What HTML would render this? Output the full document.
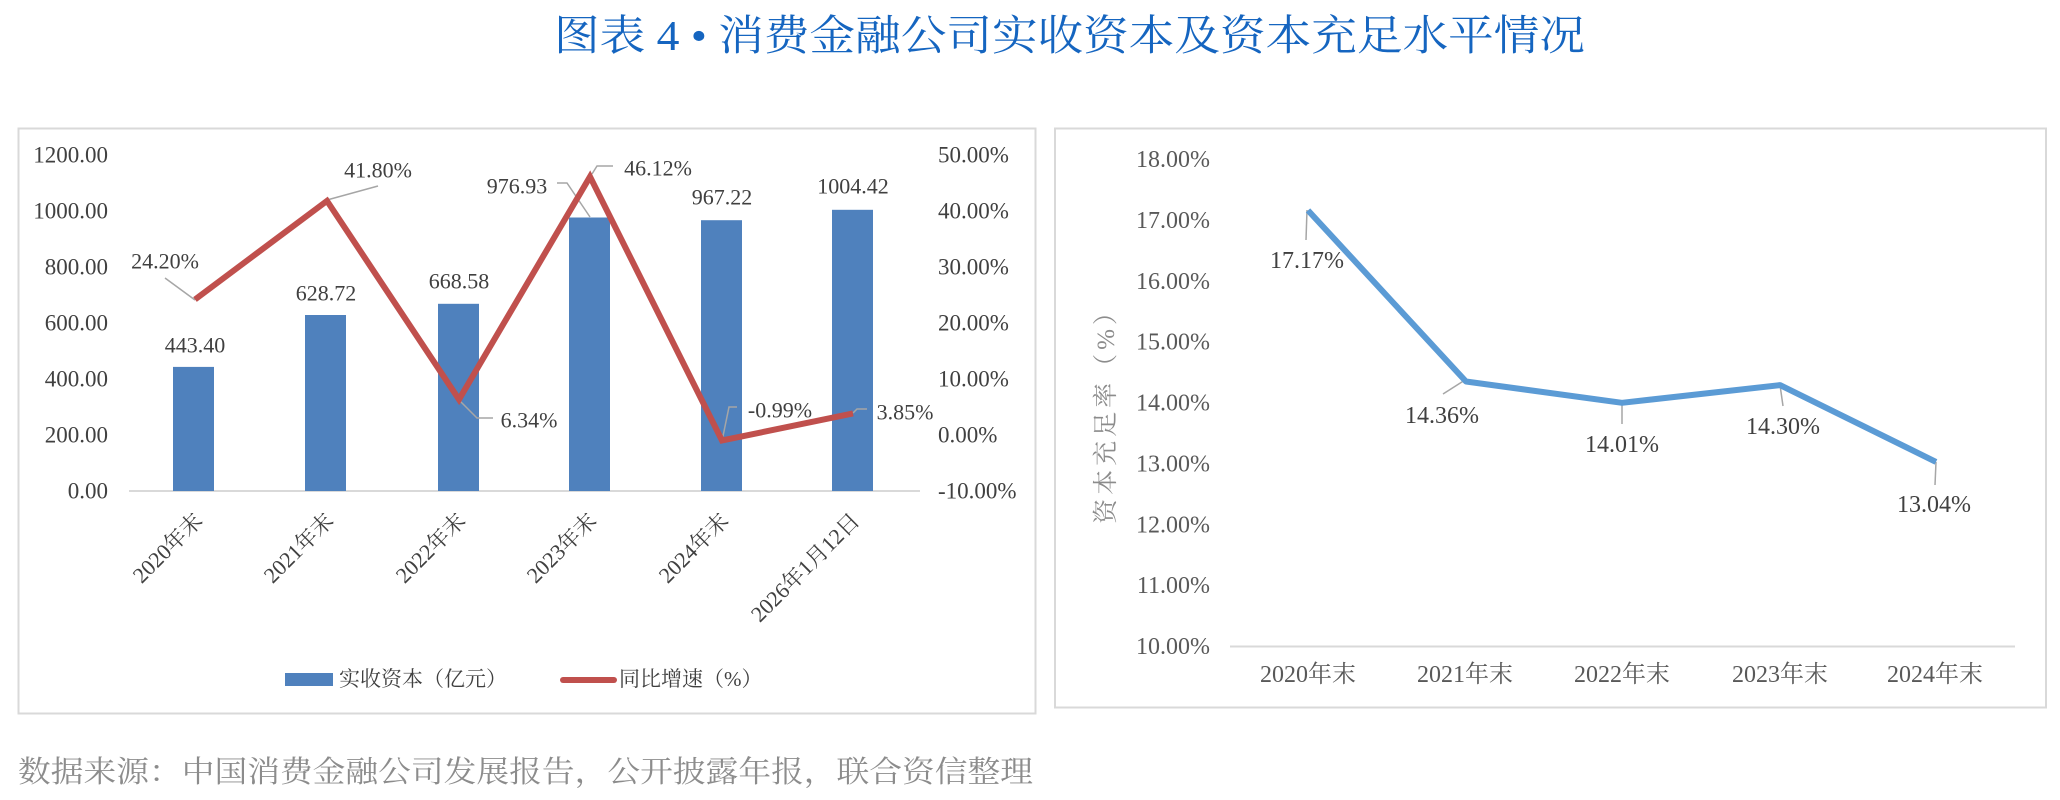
<!DOCTYPE html>
<html><head><meta charset="utf-8"><style>
html,body{margin:0;padding:0;background:#fff;width:2060px;height:800px;overflow:hidden}
svg text{font-family:"Liberation Serif","Noto Serif CJK SC","Noto Sans CJK SC",serif}
</style></head><body>
<svg width="2060" height="800" viewBox="0 0 2060 800" xmlns="http://www.w3.org/2000/svg">
<text x="554" y="50" font-size="42" fill="#1565c0" textLength="1031" lengthAdjust="spacingAndGlyphs">图表 4 • 消费金融公司实收资本及资本充足水平情况</text>

<!-- Left panel -->
<rect x="18.5" y="128.5" width="1017" height="585" fill="#fff" stroke="#d9d9d9" stroke-width="2"/>
<g font-size="23" fill="#404040" dominant-baseline="central">
<g text-anchor="end">
<text x="108" y="155">1200.00</text>
<text x="108" y="211">1000.00</text>
<text x="108" y="267">800.00</text>
<text x="108" y="323">600.00</text>
<text x="108" y="379">400.00</text>
<text x="108" y="435">200.00</text>
<text x="108" y="491">0.00</text>
</g>
<g text-anchor="start">
<text x="938" y="155">50.00%</text>
<text x="938" y="211">40.00%</text>
<text x="938" y="267">30.00%</text>
<text x="938" y="323">20.00%</text>
<text x="938" y="379">10.00%</text>
<text x="938" y="435">0.00%</text>
<text x="938" y="491">-10.00%</text>
</g>
</g>
<line x1="129" y1="491" x2="920" y2="491" stroke="#d9d9d9" stroke-width="2"/>
<g fill="#4f81bd">
<rect x="173" y="366.9" width="41" height="124.1"/>
<rect x="305" y="315" width="41" height="176"/>
<rect x="438" y="303.8" width="41" height="187.2"/>
<rect x="569" y="217.5" width="41" height="273.5"/>
<rect x="701" y="220.2" width="41" height="270.8"/>
<rect x="832" y="209.8" width="41" height="281.2"/>
</g>
<g stroke="#a6a6a6" stroke-width="1.5" fill="none">
<polyline points="165,278 195,300"/>
<polyline points="327,200 378,186"/>
<polyline points="459,400 477,418 493,418"/>
<polyline points="557,183 567,183 590,217"/>
<polyline points="592,174 597,166 613,166"/>
<polyline points="722,441 729,407 737,407"/>
<polyline points="853,413 857,409 867,409"/>
</g>
<polyline points="195,299.5 327,200.9 459,399.5 590,176.7 722,440.5 853,413.4" fill="none" stroke="#c0504d" stroke-width="6" stroke-linejoin="miter"/>
<g font-size="22" fill="#404040" text-anchor="middle" dominant-baseline="central">
<text x="195" y="345">443.40</text>
<text x="326" y="293">628.72</text>
<text x="459" y="281">668.58</text>
<text x="517" y="186">976.93</text>
<text x="722" y="197">967.22</text>
<text x="853" y="186">1004.42</text>
<text x="165" y="261">24.20%</text>
<text x="378" y="170">41.80%</text>
<text x="529" y="420">6.34%</text>
<text x="658" y="168">46.12%</text>
<text x="780" y="410">-0.99%</text>
<text x="905" y="412">3.85%</text>
</g>
<g font-size="22" fill="#404040" text-anchor="end">
<text transform="translate(204,522) rotate(-45)">2020年末</text>
<text transform="translate(335,522) rotate(-45)">2021年末</text>
<text transform="translate(467,522) rotate(-45)">2022年末</text>
<text transform="translate(598,522) rotate(-45)">2023年末</text>
<text transform="translate(730,522) rotate(-45)">2024年末</text>
<text transform="translate(861,522) rotate(-45)">2026年1月12日</text>
</g>
<rect x="285" y="673" width="48" height="13" fill="#4f81bd"/>
<text x="339" y="686" font-size="21" fill="#404040">实收资本（亿元）</text>
<line x1="563" y1="680" x2="614" y2="680" stroke="#c0504d" stroke-width="6" stroke-linecap="round"/>
<text x="619" y="686" font-size="21" fill="#404040">同比增速（%）</text>

<!-- Right panel -->
<rect x="1055" y="128.5" width="991" height="579" fill="#fff" stroke="#d9d9d9" stroke-width="2"/>
<g font-size="24" fill="#595959" text-anchor="end" dominant-baseline="central">
<text x="1210" y="160">18.00%</text>
<text x="1210" y="220.9">17.00%</text>
<text x="1210" y="281.8">16.00%</text>
<text x="1210" y="342.6">15.00%</text>
<text x="1210" y="403.5">14.00%</text>
<text x="1210" y="464.4">13.00%</text>
<text x="1210" y="525.3">12.00%</text>
<text x="1210" y="586.1">11.00%</text>
<text x="1210" y="647">10.00%</text>
</g>
<text transform="translate(1114,410) rotate(-90)" font-size="25" fill="#8c8c8c" text-anchor="middle" letter-spacing="4">资本充足率（%）</text>
<line x1="1230" y1="646.5" x2="2015" y2="646.5" stroke="#d9d9d9" stroke-width="2"/>
<g stroke="#a6a6a6" stroke-width="1.5">
<line x1="1307" y1="210" x2="1306" y2="240"/>
<line x1="1465" y1="380" x2="1443" y2="394"/>
<line x1="1622" y1="403" x2="1622" y2="424"/>
<line x1="1780" y1="385" x2="1783" y2="406"/>
<line x1="1936" y1="462" x2="1935" y2="485"/>
</g>
<polyline points="1308,210.4 1466,381.5 1622,402.8 1780,385.1 1936,461.9" fill="none" stroke="#5b9bd5" stroke-width="6" stroke-linejoin="round"/>
<g font-size="24" fill="#404040" text-anchor="middle" dominant-baseline="central">
<text x="1307" y="261">17.17%</text>
<text x="1442" y="416">14.36%</text>
<text x="1622" y="445">14.01%</text>
<text x="1783" y="427">14.30%</text>
<text x="1934" y="505">13.04%</text>
</g>
<g font-size="24" fill="#595959" text-anchor="middle" dominant-baseline="central">
<text x="1308" y="675">2020年末</text>
<text x="1465" y="675">2021年末</text>
<text x="1622" y="675">2022年末</text>
<text x="1780" y="675">2023年末</text>
<text x="1935" y="675">2024年末</text>
</g>

<text x="18" y="782" font-size="30" fill="#8c8c8c" textLength="1015" lengthAdjust="spacingAndGlyphs">数据来源：中国消费金融公司发展报告，公开披露年报，联合资信整理</text>
</svg>
</body></html>
